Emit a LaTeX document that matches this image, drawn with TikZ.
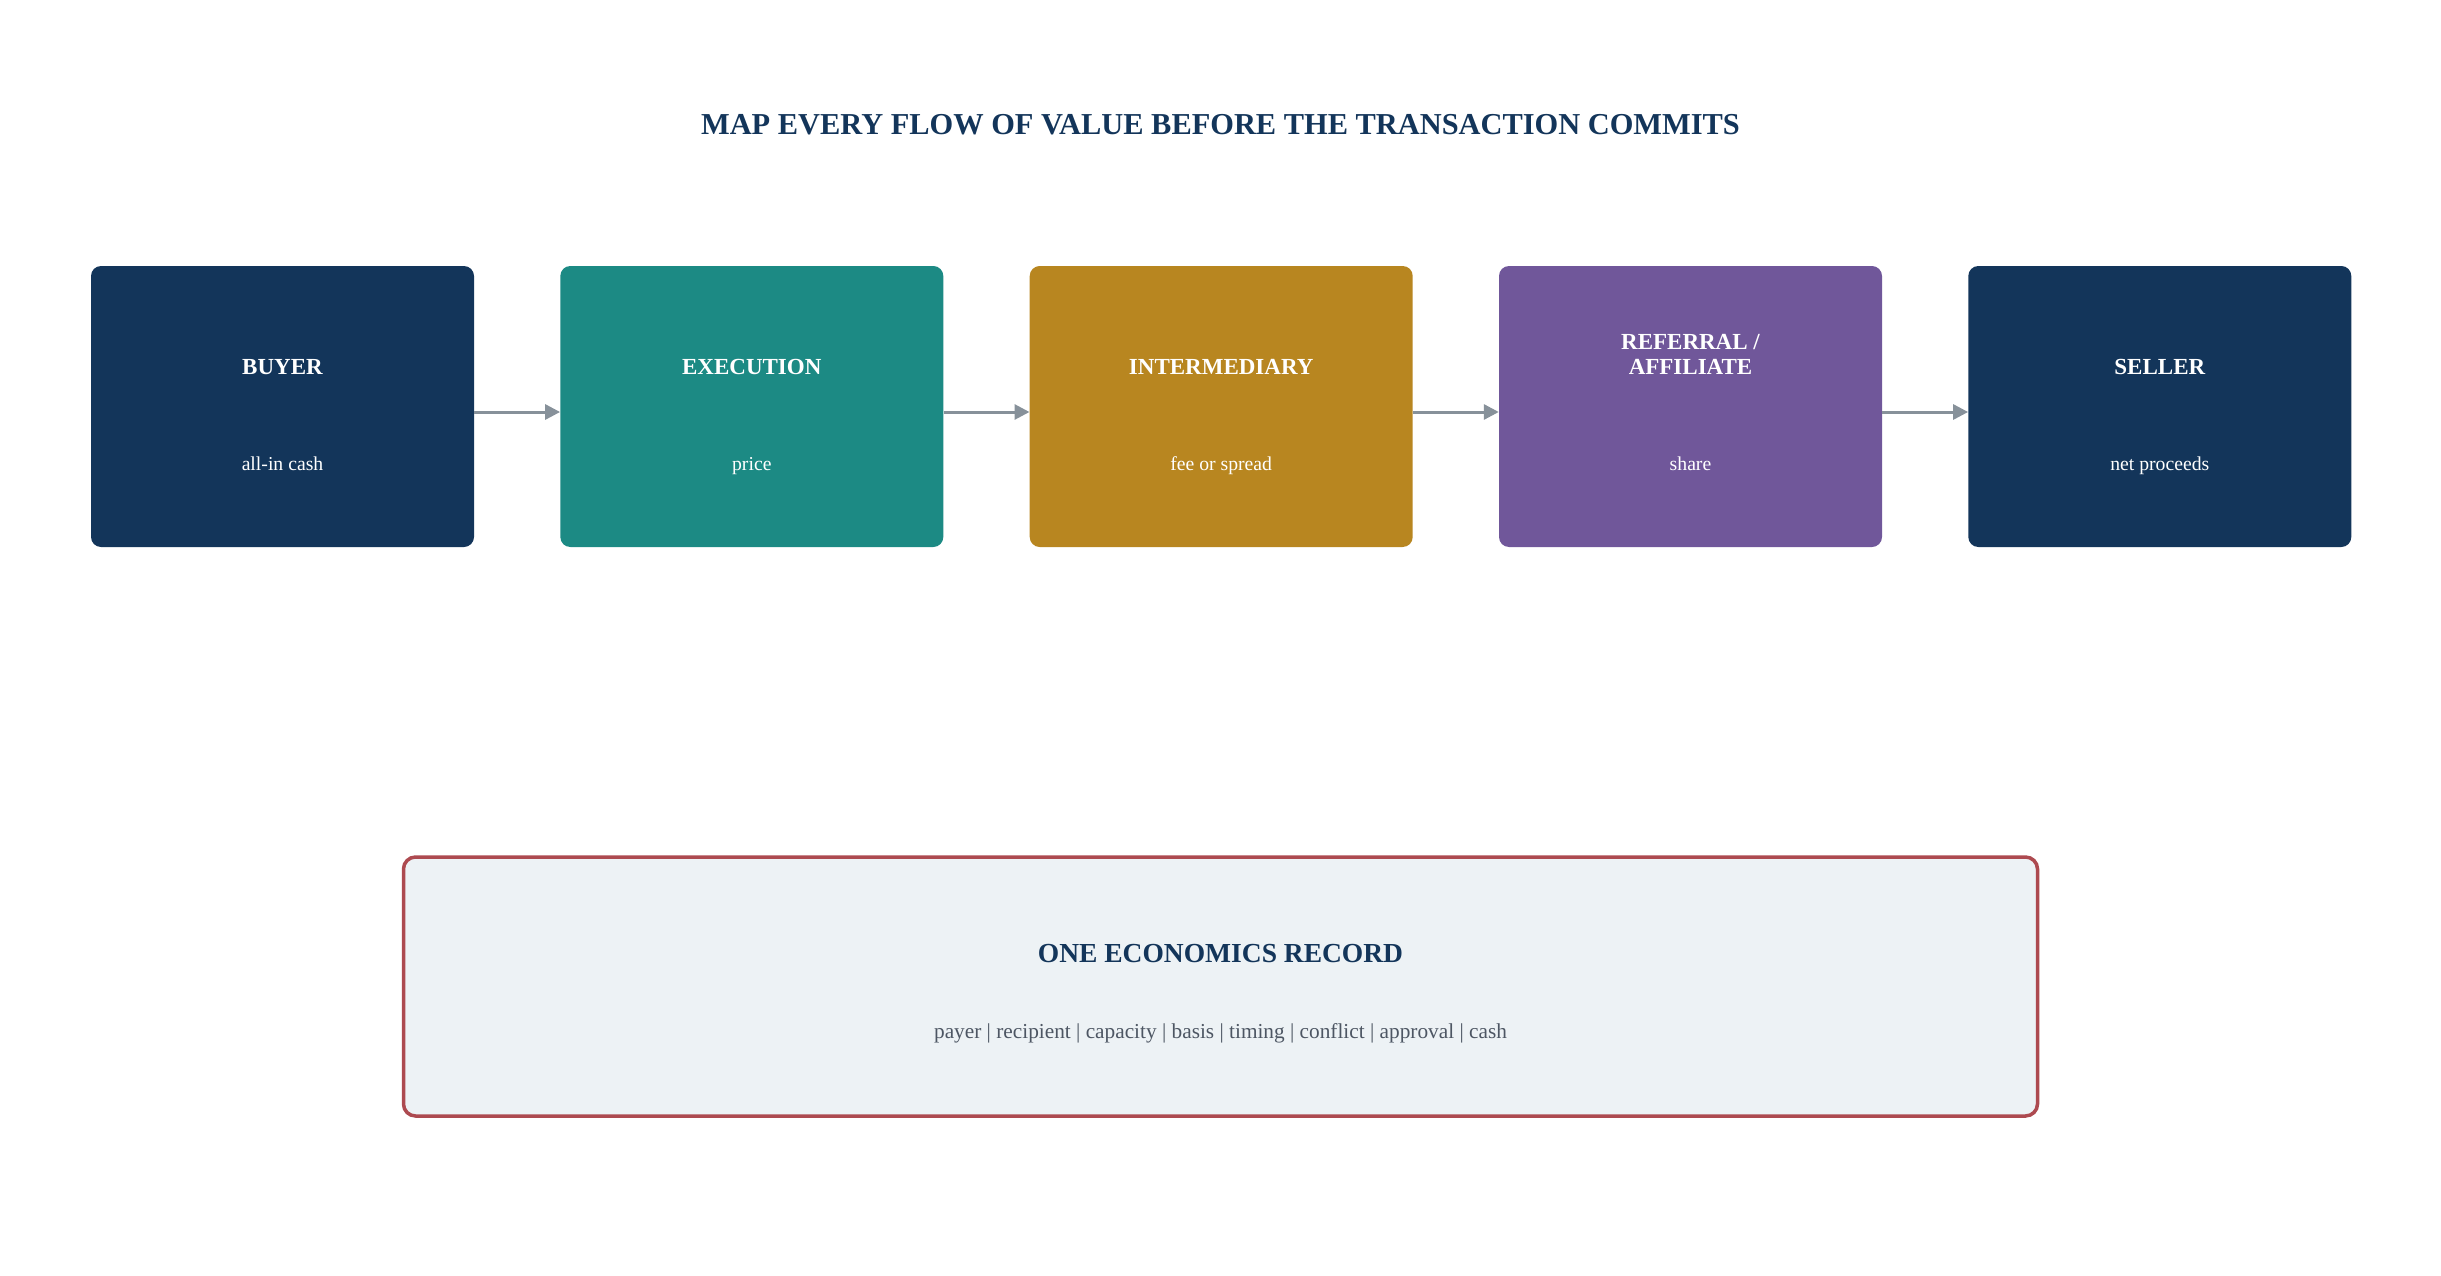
\documentclass[tikz,border=0pt]{standalone}
\usepackage{fontspec}
\setmainfont{Liberation Serif}
\usetikzlibrary{arrows.meta}
\definecolor{navy}{HTML}{13355A}
\definecolor{teal}{HTML}{1C8A84}
\definecolor{gold}{HTML}{B88620}
\definecolor{purple}{HTML}{70579A}
\definecolor{arrowgray}{HTML}{87919A}
\definecolor{recfill}{HTML}{EDF2F5}
\definecolor{recborder}{HTML}{AD4A50}
\definecolor{subgray}{HTML}{4D5663}
\tikzset{
  flowbox/.style={draw=none, rounded corners=10pt, minimum width=383pt, minimum height=281pt, inner sep=0pt},
  boxtitle/.style={anchor=base, text=white, align=center, font=\fontsize{23}{24.3}\selectfont\bfseries},
  boxsub/.style={anchor=base, text=white, font=\fontsize{19.7}{22}\selectfont},
  flowarrow/.style={draw=arrowgray, line width=3pt, -{Triangle[length=15pt,width=15pt]}},
}
\begin{document}
\begin{tikzpicture}[x=1pt,y=-1pt]
\useasboundingbox (0,0) rectangle (2441,1276);
\node[anchor=base, text=navy, font=\fontsize{30.4}{34}\selectfont\bfseries] (title) at (1220.5,134.3) {MAP EVERY FLOW OF VALUE BEFORE THE TRANSACTION COMMITS};

\node[flowbox, fill=navy]   (buyer) at (282.5,406.5) {};
\node[flowbox, fill=teal]   (exec)  at (751.8,406.5) {};
\node[flowbox, fill=gold]   (inter) at (1221.2,406.5) {};
\node[flowbox, fill=purple] (refer) at (1690.5,406.5) {};
\node[flowbox, fill=navy]   (seller) at (2159.8,406.5) {};

\node[boxtitle] (buyerT)  at ([yshift=32.5pt]buyer.center) {BUYER};
\node[boxtitle] (execT)   at ([yshift=32.5pt]exec.center) {EXECUTION};
\node[boxtitle] (interT)  at ([yshift=32.5pt]inter.center) {INTERMEDIARY};
\node[boxtitle] (referT)  at ([yshift=32.5pt]refer.center) {REFERRAL /\\AFFILIATE};
\node[boxtitle] (sellerT) at ([yshift=32.5pt]seller.center) {SELLER};

\node[boxsub] (buyerS)  at ([yshift=-63.5pt]buyer.center) {all-in cash};
\node[boxsub] (execS)   at ([yshift=-63.5pt]exec.center) {price};
\node[boxsub] (interS)  at ([yshift=-63.5pt]inter.center) {fee or spread};
\node[boxsub] (referS)  at ([yshift=-63.5pt]refer.center) {share};
\node[boxsub] (sellerS) at ([yshift=-63.5pt]seller.center) {net proceeds};

\draw[flowarrow] ([yshift=-5.5pt]buyer.east) -- ([yshift=-5.5pt]exec.west);
\draw[flowarrow] ([yshift=-5.5pt]exec.east) -- ([yshift=-5.5pt]inter.west);
\draw[flowarrow] ([yshift=-5.5pt]inter.east) -- ([yshift=-5.5pt]refer.west);
\draw[flowarrow] ([yshift=-5.5pt]refer.east) -- ([yshift=-5.5pt]seller.west);

\node[draw=recborder, fill=recfill, line width=3.5pt, rounded corners=12pt, minimum width=1634pt, minimum height=259pt, inner sep=0pt] (record) at (1220.5,986.5) {};
\node[anchor=base, text=navy, font=\fontsize{27.5}{30}\selectfont\bfseries] (recordT) at (1220.5,962.7) {ONE ECONOMICS RECORD};
\node[anchor=base, text=subgray, font=\fontsize{21.3}{24}\selectfont] (recordS) at (1220.5,1038) {payer | recipient | capacity | basis | timing | conflict | approval | cash};
\end{tikzpicture}
\end{document}
